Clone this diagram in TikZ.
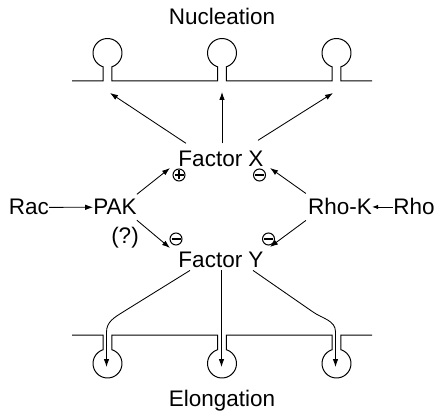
\documentclass[tikz,border=0pt]{standalone}
\usepackage{fontspec}
\setmainfont{Liberation Sans}
\usetikzlibrary{arrows.meta}
\begin{document}
\begin{tikzpicture}[x=1pt,y=1pt,
  lbl/.style={inner sep=0pt, font=\fontsize{22.5}{26}\selectfont},
  arr/.style={line width=0.85pt, -{Latex[length=8pt,width=5.5pt]}},
  memb/.style={line width=1pt},
  sgn/.style={circle, draw, line width=1pt, minimum size=12pt, inner sep=0pt},
  minussign/.style={sgn, path picture={
      \draw[line width=1.2pt] ([xshift=-4.5pt]path picture bounding box.center)
        -- ([xshift=4.5pt]path picture bounding box.center);}},
  plussign/.style={sgn, path picture={
      \draw[line width=1.2pt] ([xshift=-4.5pt]path picture bounding box.center)
        -- ([xshift=4.5pt]path picture bounding box.center);
      \draw[line width=1.2pt] ([yshift=-4.5pt]path picture bounding box.center)
        -- ([yshift=4.5pt]path picture bounding box.center);}}
]
\useasboundingbox (0,0) rectangle (435,412);

% labels
\node[lbl, anchor=base] (nuc)  at (222,387) {Nucleation};
\node[lbl, anchor=base] (fx)   at (221,245) {Factor X};
\node[lbl, anchor=base] (fy)   at (221,145) {Factor Y};
\node[lbl, anchor=base] (rac)  at (29,197)  {Rac};
\node[lbl, anchor=base] (pak)  at (115,197) {PAK};
\node[lbl, anchor=base] (rhok) at (340,197) {Rho-K};
\node[lbl, anchor=base] (rho)  at (414,197) {Rho};
\node[lbl] (q) at (125,174) {(?)};
\node[lbl, anchor=base] (el)   at (222,6)   {Elongation};

% activation / inhibition marks
\node[plussign]  (s1) at (179,237) {};
\node[minussign] (s2) at (259.5,237) {};
\node[minussign] (s3) at (176,173) {};
\node[minussign] (s4) at (268.5,173) {};

% membrane with budding vesicles (nucleation side)
\draw[memb] (72,331) -- (103.02,331)
  -- ++(0,14.21) arc[start angle=252,end angle=-72,radius=14.5] -- ++(0,-14.21)
  -- (217.52,331)
  -- ++(0,14.21) arc[start angle=252,end angle=-72,radius=14.5] -- ++(0,-14.21)
  -- (332.02,331)
  -- ++(0,14.21) arc[start angle=252,end angle=-72,radius=14.5] -- ++(0,-14.21)
  -- (372,331);

% membrane with inward vesicles (elongation side)
\draw[memb] (72,77) -- (103.02,77)
  -- ++(0,-14.71) arc[start angle=108,end angle=432,radius=14.5] -- ++(0,14.71)
  -- (217.52,77)
  -- ++(0,-14.71) arc[start angle=108,end angle=432,radius=14.5] -- ++(0,14.71)
  -- (332.02,77)
  -- ++(0,-14.71) arc[start angle=108,end angle=432,radius=14.5] -- ++(0,14.71)
  -- (372,77);

% arrow end points
\coordinate (n1) at (110,319);
\coordinate (n2) at (222,320);
\coordinate (n3) at (333,319);
\coordinate (e1) at (106.5,45);
\coordinate (e2) at (221.5,45);
\coordinate (e3) at (335.5,45);
\coordinate (xin1) at (170,244);
\coordinate (xin2) at (270,244);
\coordinate (yin1) at (170,164);
\coordinate (yin2) at (270,165);

% signalling arrows
\draw[arr] (rac) -- (pak);
\draw[line width=0.85pt, -{Latex[length=6pt,width=4.5pt]}] (rho) -- (rhok);
\draw[arr] ([shift={(0,5)}]pak.north east) -- (xin1);
\draw[arr] ([shift={(-2,5)}]rhok.north west) -- (xin2);
\draw[arr] ([shift={(0,-5)}]pak.south east) -- (yin1);
\draw[arr] ([shift={(-2,-5)}]rhok.south west) -- (yin2);

% Factor X to nucleation sites
\draw[arr] ([shift={(-35,8)}]fx.north) -- (n1);
\draw[arr] ([shift={(1,8)}]fx.north) -- (n2);
\draw[arr] ([shift={(37,11)}]fx.north) -- (n3);

% Factor Y to elongation sites
\draw[arr] ([shift={(-31,-3)}]fy.south) -- (123,100) to[out=212,in=90] (106.5,80) -- (e1);
\draw[arr] ([shift={(0.5,-3)}]fy.south) -- (e2);
\draw[arr] ([shift={(32,-3)}]fy.south) -- (313,100) to[out=-35,in=90] (335.5,80) -- (e3);
\end{tikzpicture}
\end{document}
